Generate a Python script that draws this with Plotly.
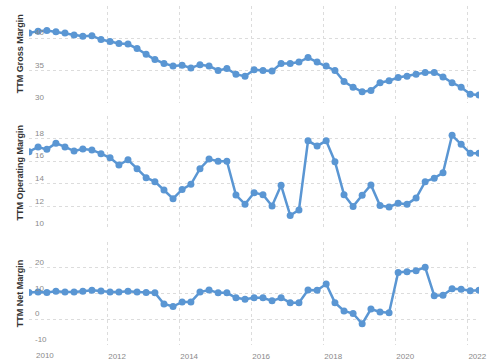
import plotly.graph_objects as go

dates = [
    "2009-10-31",
    "2010-01-31", "2010-04-30", "2010-07-31", "2010-10-31",
    "2011-01-31", "2011-04-30", "2011-07-31", "2011-10-31",
    "2012-01-31", "2012-04-30", "2012-07-31", "2012-10-31",
    "2013-01-31", "2013-04-30", "2013-07-31", "2013-10-31",
    "2014-01-31", "2014-04-30", "2014-07-31", "2014-10-31",
    "2015-01-31", "2015-04-30", "2015-07-31", "2015-10-31",
    "2016-01-31", "2016-04-30", "2016-07-31", "2016-10-31",
    "2017-01-31", "2017-04-30", "2017-07-31", "2017-10-31",
    "2018-01-31", "2018-04-30", "2018-07-31", "2018-10-31",
    "2019-01-31", "2019-04-30", "2019-07-31", "2019-10-31",
    "2020-01-31", "2020-04-30", "2020-07-31", "2020-10-31",
    "2021-01-31", "2021-04-30", "2021-07-31", "2021-10-31",
    "2022-01-31", "2022-04-30",
]

gross_margin = [
    40.8, 41.1, 41.2, 41.0, 40.8, 40.5, 40.3, 40.4, 39.8, 39.5,
    39.2, 39.1, 38.4, 37.5, 36.7, 36.1, 35.7, 35.8, 35.4, 35.9,
    35.7, 35.0, 35.3, 34.4, 34.1, 35.1, 35.0, 34.9, 36.1, 36.1,
    36.3, 37.0, 36.3, 35.7, 35.0, 33.3, 32.4, 31.7, 31.9, 33.1,
    33.4, 33.9, 34.1, 34.4, 34.7, 34.7, 34.0, 33.1, 32.4, 31.3,
    31.2,
]

operating_margin = [
    16.84, 17.26, 17.05, 17.6, 17.26, 16.9, 17.08, 17.0, 16.67, 16.3,
    15.66, 16.13, 15.34, 14.54, 14.19, 13.45, 12.68, 13.5, 13.95, 15.34,
    16.19, 16.0, 16.0, 13.0, 12.2, 13.2, 13.04, 12.04, 13.87, 11.2,
    11.68, 17.8, 17.35, 17.8, 15.96, 13.04, 12.0, 12.98, 13.9, 12.07,
    11.95, 12.27, 12.2, 12.74, 14.19, 14.5, 14.98, 18.29, 17.5, 16.7,
    16.7,
]

net_margin = [
    10.3, 10.5, 10.3, 10.8, 10.5, 10.5, 10.8, 11.2, 10.9, 10.5,
    10.5, 10.8, 10.5, 10.3, 10.2, 5.9, 4.9, 6.7, 6.7, 10.5,
    11.3, 10.2, 10.2, 8.3, 7.7, 8.3, 8.3, 7.1, 8.3, 6.4,
    6.4, 11.3, 11.2, 13.6, 6.4, 3.2, 2.2, -1.8, 3.9, 2.8,
    2.5, 18.1, 18.4, 18.8, 20.1, 9.1, 9.3, 11.8, 11.6, 11.0,
    11.2,
]

panel_titles = ["TTM Gross Margin", "TTM Operating Margin", "TTM Net Margin"]
gross_ticks = [30, 35, 40, 45]
gross_labels = ["30", "35", "40", ""]
op_ticks = [10, 12, 14, 16, 18, 20]
op_labels = ["10", "12", "14", "16", "18", ""]
net_ticks = [-10, 0, 10, 20, 30]
net_labels = ["-10", "0", "10", "20", ""]
year_ticks = ["2010-01-01", "2012-01-01", "2014-01-01", "2016-01-01",
              "2018-01-01", "2020-01-01", "2022-01-01"]
year_labels = ["2010", "2012", "2014", "2016", "2018", "2020", "2022"]

LINE = "#5a96d3"
GRID = "#dcdcdc"
TICKFONT = dict(family="Liberation Sans, Arial, sans-serif", size=8, color="#8a8a8a")
TITLEFONT = dict(family="Liberation Sans, Arial, sans-serif", size=9, color="#333333", weight="bold")

fig = go.Figure()
series = [gross_margin, operating_margin, net_margin]
for i, vals in enumerate(series):
    fig.add_trace(go.Scatter(
        x=dates, y=vals, mode="lines+markers",
        line=dict(color=LINE, width=2.5),
        marker=dict(color=LINE, size=7),
        xaxis="x" if i == 0 else f"x{i+1}",
        yaxis="y" if i == 0 else f"y{i+1}",
        showlegend=False, hoverinfo="skip",
    ))

xrange = [dates[0], dates[-1]]
common_x = dict(
    range=xrange, type="date", showgrid=True, gridcolor=GRID, griddash="3px,3px",
    gridwidth=1, tickmode="array", tickvals=year_ticks, ticktext=year_labels,
    ticks="", ticklen=0, zeroline=False, showline=False, tickfont=TICKFONT,
    automargin=False, ticklabeloverflow="allow",
)

domains = [[0.7147, 1.0], [0.3422, 0.6755], [0.0, 0.3047]]
yranges = [[30, 45], [10, 20], [-10, 30]]
tickvals = [gross_ticks, op_ticks, net_ticks]
ticktexts = [gross_labels, op_labels, net_labels]

layout = dict(
    width=500, height=361,
    margin=dict(l=29, r=21, t=6, b=16),
    paper_bgcolor="white", plot_bgcolor="white",
    showlegend=False,
)
annotations = []
for i in range(3):
    xa = "xaxis" if i == 0 else f"xaxis{i+1}"
    ya = "yaxis" if i == 0 else f"yaxis{i+1}"
    yname = "y" if i == 0 else f"y{i+1}"
    xd = dict(common_x)
    xd["anchor"] = yname
    xd["showticklabels"] = (i == 2)
    if i == 2:
        xd["ticklabelshift"] = 10
        xd["ticklabelstandoff"] = 5
    else:
        xd["matches"] = "x3"
    layout[xa] = xd
    layout[ya] = dict(
        domain=domains[i], range=yranges[i], anchor="x" if i == 0 else f"x{i+1}",
        tickmode="array", tickvals=tickvals[i], ticktext=ticktexts[i],
        showgrid=True, gridcolor=GRID, griddash="3px,3px", gridwidth=1,
        zeroline=False, showline=False, ticks="", ticklen=0,
        ticklabelposition="inside top", ticklabelstandoff=3, tickfont=TICKFONT,
        automargin=False,
    )
    annotations.append(dict(
        text=panel_titles[i], font=TITLEFONT, textangle=-90,
        xref="paper", yref="paper", x=0, y=sum(domains[i]) / 2,
        xanchor="center", yanchor="middle", xshift=-9, showarrow=False,
    ))

# plotly hides the first year label next to the inside y labels; restore it
annotations.append(dict(
    text=year_labels[0], font=TICKFONT, xref="x3", yref="paper",
    x=year_ticks[0], y=0, xanchor="center", yanchor="top",
    xshift=10, yshift=-4, showarrow=False,
))

layout["annotations"] = annotations
fig.update_layout(**layout)
fig.write_html("out.html", config={"displayModeBar": False},
               post_script="document.body.style.margin='0';")
